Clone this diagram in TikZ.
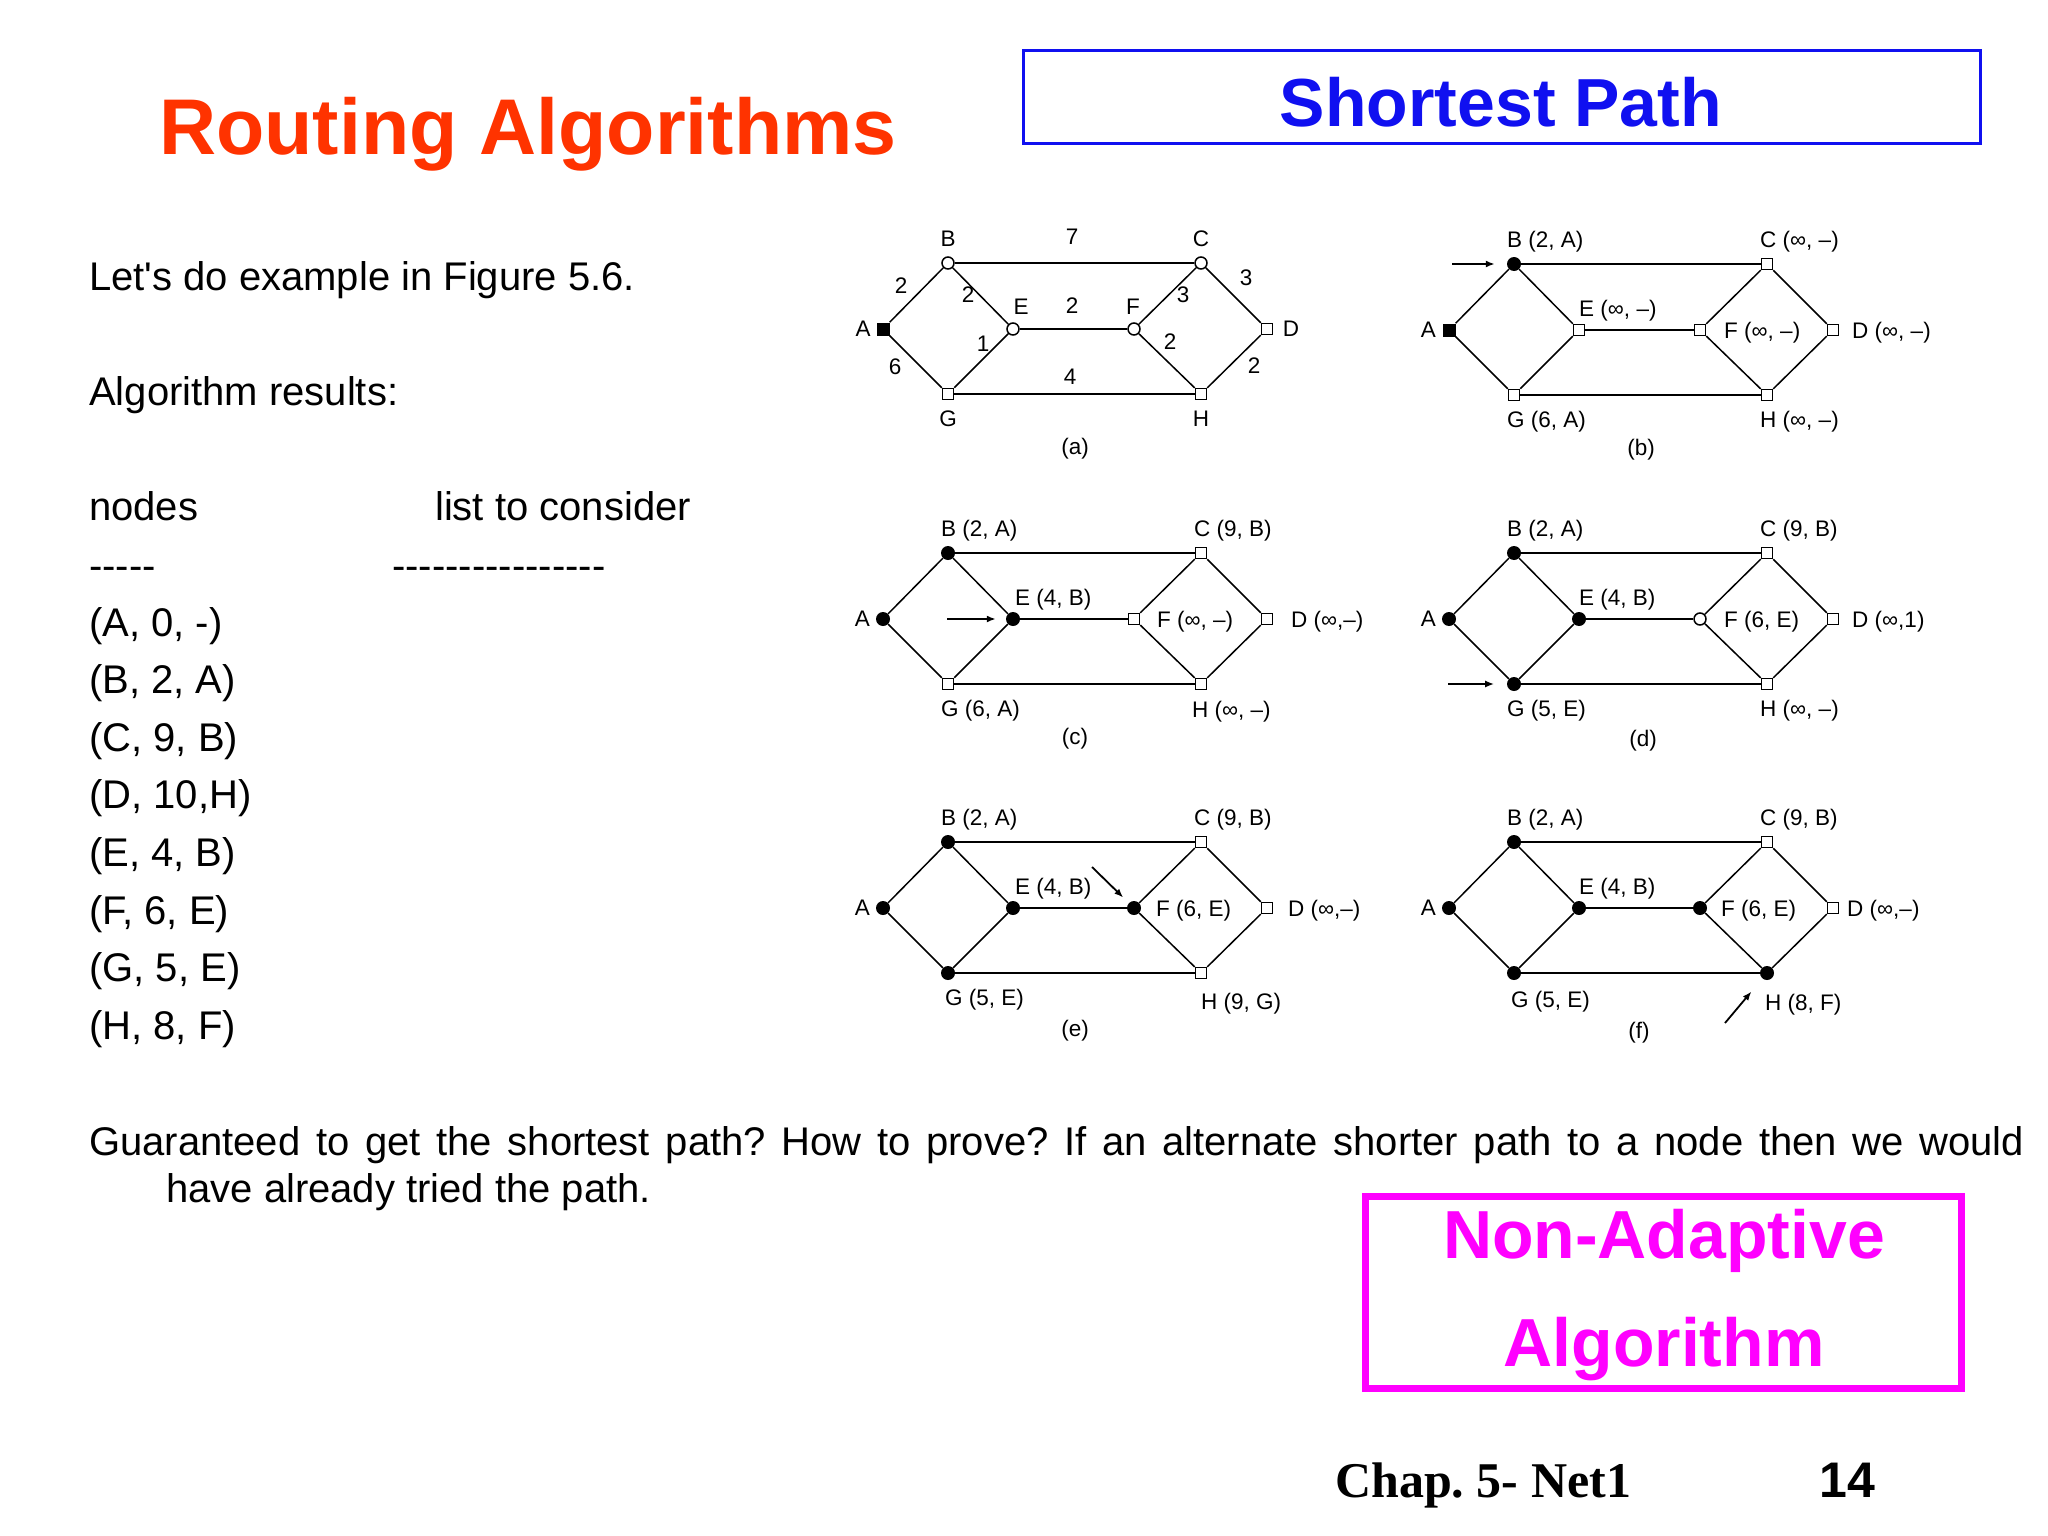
\documentclass[tikz,border=0pt]{standalone}
\usepackage{fontspec}
\setmainfont{Liberation Sans}
\newfontfamily\chapfont{Liberation Serif}
\usetikzlibrary{arrows.meta}
\definecolor{titlered}{RGB}{255,51,0}
\definecolor{titleblue}{RGB}{16,16,240}
\definecolor{magentaX}{RGB}{255,0,255}
\frenchspacing
\tikzset{
  opensq/.style={draw, fill=white, rectangle, minimum size=11pt, inner sep=0pt, line width=1.5pt},
  opencirc/.style={draw, fill=white, circle, minimum size=12pt, inner sep=0pt, line width=1.5pt},
  filledc/.style={fill=black, circle, minimum size=14pt, inner sep=0pt},
  filledsq/.style={fill=black, rectangle, minimum size=13pt, inner sep=0pt},
  hedge/.style={line width=2.2pt},
  dedge/.style={line width=1.5pt},
  glbl/.style={font=\fontsize{22.5}{26}\selectfont, inner sep=0pt},
  glblw/.style={glbl, anchor=base west},
  marker/.style={line width=1.8pt, -{Latex[length=9pt,width=7pt]}},
  body/.style={font=\fontsize{40}{48}\selectfont, inner sep=0pt, anchor=base west},
}
\newcommand\gnodes[9]{%
  \node[#2] (#1A) at (0,0) {};
  \node[#3] (#1B) at (65,-66) {};
  \node[#4] (#1C) at (318,-66) {};
  \node[#5] (#1D) at (384,0) {};
  \node[#6] (#1E) at (130,0) {};
  \node[#7] (#1F) at (251,0) {};
  \node[#8] (#1G) at (65,65) {};
  \node[#9] (#1H) at (318,65) {};
}
\newcommand\gedges[1]{%
  \draw[dedge] (#1A) -- (#1B);
  \draw[dedge] (#1A) -- (#1G);
  \draw[dedge] (#1B) -- (#1E);
  \draw[dedge] (#1G) -- (#1E);
  \draw[dedge] (#1C) -- (#1F);
  \draw[dedge] (#1F) -- (#1H);
  \draw[dedge] (#1C) -- (#1D);
  \draw[dedge] (#1H) -- (#1D);
  \draw[hedge] (#1B) -- (#1C);
  \draw[hedge] (#1E) -- (#1F);
  \draw[hedge] (#1G) -- (#1H);
}
\begin{document}
\begin{tikzpicture}[x=1pt,y=-1pt]
\fill[white] (0,0) rectangle (2048,1536);
\useasboundingbox (0,0) rectangle (2048,1536);

% titles
\node[anchor=base west, inner sep=0pt, text=titlered, font=\fontsize{79}{90}\selectfont\bfseries] (title) at (159,154) {Routing Algorithms};
\draw[titleblue, line width=3pt] (1023,51) rectangle (1980,144);
\node[anchor=base, inner sep=0pt, text=titleblue, font=\fontsize{68}{80}\selectfont\bfseries] (sp) at (1501,127) {Shortest Path};

% left text
\node[body] (t1) at (89,290) {Let\textquotesingle s do example in Figure 5.6.};
\node[body] (t2) at (89,405) {Algorithm results:};
\node[body] (t3) at (89,520) {nodes};
\node[body] (t4) at (435,520) {list to consider};
\node[body] (t5) at (89,579) {-{}-{}-{}-{}-};
\node[body] (t6) at (392,579) {-{}-{}-{}-{}-{}-{}-{}-{}-{}-{}-{}-{}-{}-{}-{}-};
\node[body] (r1) at (89,636) {(A, 0, -)};
\node[body] (r2) at (89,693.6) {(B, 2, A)};
\node[body] (r3) at (89,751.2) {(C, 9, B)};
\node[body] (r4) at (89,808.8) {(D, 10,H)};
\node[body] (r5) at (89,866.4) {(E, 4, B)};
\node[body] (r6) at (89,924) {(F, 6, E)};
\node[body] (r7) at (89,981.6) {(G, 5, E)};
\node[body] (r8) at (89,1039.2) {(H, 8, F)};
\node[body] (g1) at (89,1155) {\makebox[1935pt][s]{Guaranteed to get the shortest path? How to prove? If an alternate shorter path to a node then we would}};
\node[body] (g2) at (166,1202) {have already tried the path.};

% non-adaptive box
\draw[magentaX, line width=7pt] (1365,1196) rectangle (1961,1388);
\node[anchor=base, inner sep=0pt, text=magentaX, font=\fontsize{68}{80}\selectfont\bfseries] (na1) at (1664,1258) {Non-Adaptive};
\node[anchor=base, inner sep=0pt, text=magentaX, font=\fontsize{68}{80}\selectfont\bfseries] (na2) at (1664,1366) {Algorithm};

% footer
\node[anchor=base west, inner sep=0pt, font=\fontsize{50}{60}\chapfont\bfseries] (chap) at (1335,1497) {Chap. 5- Net1};
\node[anchor=base west, inner sep=0pt, font=\fontsize{50}{60}\selectfont\bfseries] (pg) at (1819,1497) {14};

% panel (a)
\begin{scope}[shift={(883,329)}]
\gnodes{a}{filledsq}{opencirc}{opencirc}{opensq}{opencirc}{opencirc}{opensq}{opensq}
\gedges{a}
\node[glbl] (aLA) at (-20,0) {A};
\node[glbl] (aLB) at (65,-90) {B};
\node[glbl] (aLC) at (318,-90) {C};
\node[glbl] (aLD) at (408,0) {D};
\node[glbl] (aLE) at (138,-22) {E};
\node[glbl] (aLF) at (250,-22) {F};
\node[glbl] (aLG) at (65,90) {G};
\node[glbl] (aLH) at (318,90) {H};
\node[glbl] (aW1) at (189,-92) {7};
\node[glbl] (aW2) at (18,-43) {2};
\node[glbl] (aW3) at (85,-34) {2};
\node[glbl] (aW4) at (189,-23) {2};
\node[glbl] (aW5) at (300,-34) {3};
\node[glbl] (aW6) at (363,-51) {3};
\node[glbl] (aW7) at (100,15) {1};
\node[glbl] (aW8) at (12,38) {6};
\node[glbl] (aW9) at (187,48) {4};
\node[glbl] (aW10) at (287,13) {2};
\node[glbl] (aW11) at (371,37) {2};
\node[glbl] (aCap) at (192,120) {(a)};
\end{scope}

% panel (b)
\begin{scope}[shift={(1449,330)}]
\gnodes{b}{filledsq}{filledc}{opensq}{opensq}{opensq}{opensq}{opensq}{opensq}
\gedges{b}
\node[glbl, anchor=base east] (bLA) at (-13,7) {A};
\node[glblw] (bLB) at (58,-83) {B (2, A)};
\node[glblw] (bLC) at (311,-83) {C (∞, –)};
\node[glblw] (bLE) at (130,-14) {E (∞, –)};
\node[glblw] (bLF) at (275,8) {F (∞, –)};
\node[glblw] (bLD) at (403,8) {D (∞, –)};
\node[glblw] (bLG) at (58,97) {G (6, A)};
\node[glblw] (bLH) at (311,97) {H (∞, –)};
\node[glbl] (bCap) at (192,120) {(b)};
\coordinate (bArr) at (3,-66);
\draw[marker, shorten >=12pt] (bArr) -- (bB);
\end{scope}

% panel (c)
\begin{scope}[shift={(883,619)}]
\gnodes{c}{filledc}{filledc}{opensq}{opensq}{filledc}{opensq}{opensq}{opensq}
\gedges{c}
\node[glbl, anchor=base east] (cLA) at (-13,7) {A};
\node[glblw] (cLB) at (58,-83) {B (2, A)};
\node[glblw] (cLC) at (311,-83) {C (9, B)};
\node[glblw] (cLE) at (132,-14) {E (4, B)};
\node[glblw] (cLF) at (274,8) {F (∞, –)};
\node[glblw] (cLD) at (408,8) {D (∞,–)};
\node[glblw] (cLG) at (58,97) {G (6, A)};
\node[glblw] (cLH) at (309,98) {H (∞, –)};
\node[glbl] (cCap) at (192,120) {(c)};
\coordinate (cArr) at (64,0);
\draw[marker, shorten >=10pt] (cArr) -- (cE);
\end{scope}

% panel (d)
\begin{scope}[shift={(1449,619)}]
\gnodes{d}{filledc}{filledc}{opensq}{opensq}{filledc}{opencirc}{filledc}{opensq}
\gedges{d}
\node[glbl, anchor=base east] (dLA) at (-13,7) {A};
\node[glblw] (dLB) at (58,-83) {B (2, A)};
\node[glblw] (dLC) at (311,-83) {C (9, B)};
\node[glblw] (dLE) at (130,-14) {E (4, B)};
\node[glblw] (dLF) at (275,8) {F (6, E)};
\node[glblw] (dLD) at (403,8) {D (∞,1)};
\node[glblw] (dLG) at (58,97) {G (5, E)};
\node[glblw] (dLH) at (311,97) {H (∞, –)};
\node[glbl] (dCap) at (194,122) {(d)};
\coordinate (dArr) at (-1,65);
\draw[marker, shorten >=12.6pt] (dArr) -- (dG);
\end{scope}

% panel (e)
\begin{scope}[shift={(883,908)}]
\gnodes{e}{filledc}{filledc}{opensq}{opensq}{filledc}{filledc}{filledc}{opensq}
\gedges{e}
\node[glbl, anchor=base east] (eLA) at (-13,7) {A};
\node[glblw] (eLB) at (58,-83) {B (2, A)};
\node[glblw] (eLC) at (311,-83) {C (9, B)};
\node[glblw] (eLE) at (132,-14) {E (4, B)};
\node[glblw] (eLF) at (273,8) {F (6, E)};
\node[glblw] (eLD) at (405,8) {D (∞,–)};
\node[glblw] (eLG) at (62,97) {G (5, E)};
\node[glblw] (eLH) at (318,101) {H (9, G)};
\node[glbl] (eCap) at (192,123) {(e)};
\coordinate (eArr) at (209,-41);
\draw[marker, shorten >=7.8pt] (eArr) -- (eF);
\end{scope}

% panel (f)
\begin{scope}[shift={(1449,908)}]
\gnodes{f}{filledc}{filledc}{opensq}{opensq}{filledc}{filledc}{filledc}{filledc}
\gedges{f}
\node[glbl, anchor=base east] (fLA) at (-13,7) {A};
\node[glblw] (fLB) at (58,-83) {B (2, A)};
\node[glblw] (fLC) at (311,-83) {C (9, B)};
\node[glblw] (fLE) at (130,-14) {E (4, B)};
\node[glblw] (fLF) at (272,8) {F (6, E)};
\node[glblw] (fLD) at (398,8) {D (∞,–)};
\node[glblw] (fLG) at (62,99) {G (5, E)};
\node[glblw] (fLH) at (316,102) {H (8, F)};
\node[glbl] (fCap) at (190,125) {(f)};
\coordinate (fArr) at (276,115);
\draw[marker, shorten >=17pt] (fArr) -- (fH);
\end{scope}
\end{tikzpicture}
\end{document}
